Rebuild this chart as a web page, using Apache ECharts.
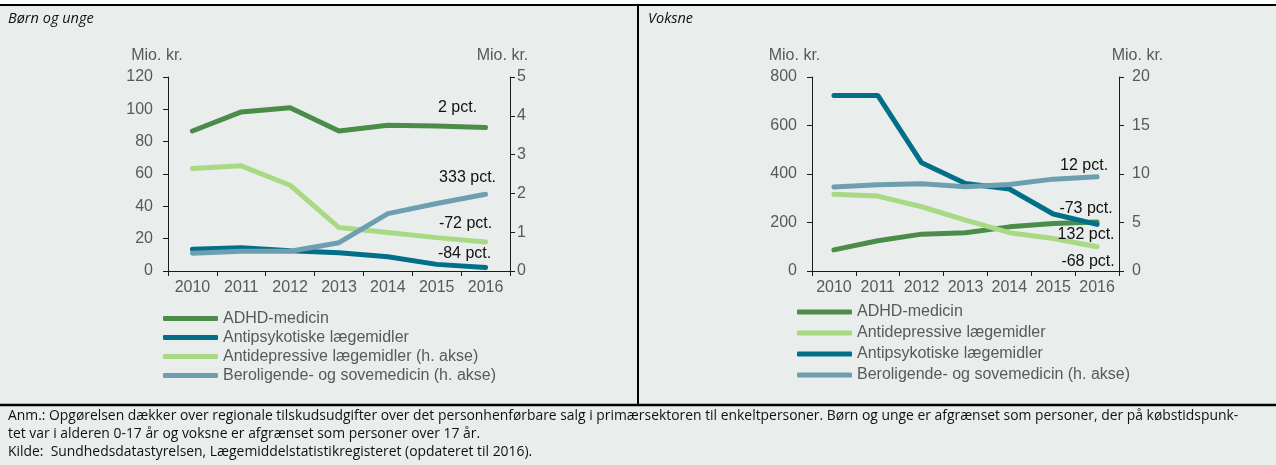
<!DOCTYPE html>
<html>
<head>
<meta charset="utf-8">
<script src="https://cdn.jsdelivr.net/npm/echarts@6/dist/echarts.min.js"></script>
<style>
	html, body { margin: 0; padding: 0; background: #e9eeec; }
	#main { width: 1276px; height: 465px; }
</style>
</head>
<body>
<div id="main"></div>
<script>
// data
const years = ['2010', '2011', '2012', '2013', '2014', '2015', '2016'];

// Børn og unge
const boernAdhd = [86.6, 98.4, 101, 86.6, 90.1, 89.7, 88.7];
const boernAntipsyk = [13.4, 14.4, 12.6, 11.3, 8.8, 4.1, 2.1];
const boernAntidep = [2.64, 2.71, 2.21, 1.12, 0.99, 0.86, 0.75];      // h. akse
const boernBerolig = [0.46, 0.51, 0.51, 0.73, 1.48, 1.74, 1.98];      // h. akse
const boernPct = ['2 pct.', '-84 pct.', '-72 pct.', '333 pct.'];

// Voksne
const voksneAdhd = [87, 125, 152, 158, 182, 196, 202];
const voksneAntidep = [316, 309, 265, 210, 158, 134, 100];
const voksneAntipsyk = [724, 724, 446, 361, 338, 235, 192];
const voksneBerolig = [8.65, 8.89, 8.99, 8.68, 8.92, 9.47, 9.71];    // h. akse
const voksnePct = ['132 pct.', '-68 pct.', '-73 pct.', '12 pct.'];

const leftTicks = [0, 120, 20];
const rightTicks = [0, 5, 1];
const leftTicksV = [0, 800, 200];
const rightTicksV = [0, 20, 5];

const footer = [
	'Anm.: Opgørelsen dækker over regionale tilskudsudgifter over det personhenførbare salg i primærsektoren til enkeltpersoner. Børn og unge er afgrænset som personer, der på købstidspunk-',
	'tet var i alderen 0-17 år og voksne er afgrænset som personer over 17 år.',
	'Kilde:  Sundhedsdatastyrelsen, Lægemiddelstatistikregisteret (opdateret til 2016).'
];

const C_ADHD = '#4c8c49',
	C_ANTIPSYK = '#006f87',
	C_ANTIDEP = '#aad985',
	C_BEROLIG = '#6d9fb0';
const GREY = '#595959';
const FONT = 'Liberation Sans, Arial, sans-serif';
const FS = 16;

let chart = null;

function xAxis(gridIndex) {
	return {
		type: 'category',
		gridIndex: gridIndex,
		data: years,
		boundaryGap: true,
		axisLine: { lineStyle: { color: '#1a1a1a', width: 1 } },
		axisTick: { show: true, length: 5, lineStyle: { color: '#1a1a1a' } },
		axisLabel: { color: GREY, fontSize: FS, fontFamily: FONT, margin: 9, interval: 0 },
		splitLine: { show: false }
	};
}

function yAxis(gridIndex, ticks, position, labelMargin, pad) {
	return {
		type: 'value',
		gridIndex: gridIndex,
		position: position,
		min: ticks[0],
		max: ticks[1],
		interval: ticks[2],
		name: 'Mio. kr.',
		nameLocation: 'end',
		nameGap: 21,
		nameTextStyle: {
			color: GREY, fontSize: FS, fontFamily: FONT,
			align: 'center', verticalAlign: 'middle', padding: pad
		},
		axisLine: { show: true, lineStyle: { color: '#1a1a1a', width: 1 } },
		axisTick: { show: true, length: 5, lineStyle: { color: '#1a1a1a' } },
		axisLabel: { color: GREY, fontSize: FS, fontFamily: FONT, margin: labelMargin },
		splitLine: { show: false }
	};
}

function line(name, data, color, xIdx, yIdx, pct, offset) {
	return {
		name: name,
		type: 'line',
		xAxisIndex: xIdx,
		yAxisIndex: yIdx,
		data: data,
		symbol: 'none',
		lineStyle: { color: color, width: 5, cap: 'round' },
		itemStyle: { color: color },
		emphasis: { disabled: true },
		markPoint: {
			silent: true,
			symbol: 'circle',
			symbolSize: 0,
			itemStyle: { color: 'transparent' },
			label: {
				show: true,
				position: 'inside',
				color: '#111',
				fontSize: FS,
				fontFamily: FONT,
				formatter: pct,
				offset: offset
			},
			data: [{ coord: [years[years.length - 1], data[data.length - 1]] }]
		}
	};
}

function legend(left, top, gap, names) {
	return {
		orient: 'vertical',
		left: left,
		top: top,
		padding: 0,
		itemWidth: 55,
		itemHeight: 5,
		itemGap: gap,
		icon: 'roundRect',
		selectedMode: false,
		textStyle: { color: GREY, fontSize: FS, fontFamily: FONT, lineHeight: 16 },
		data: names
	};
}

function text(x, y, str, style) {
	return {
		type: 'text',
		x: x,
		y: y,
		silent: true,
		style: Object.assign({ text: str, fill: '#111', verticalAlign: 'middle' }, style)
	};
}

function getOption() {
	const bName = ['ADHD-medicin', 'Antipsykotiske lægemidler', 'Antidepressive lægemidler (h. akse)', 'Beroligende- og sovemedicin (h. akse)'];
	const vName = ['ADHD-medicin', 'Antidepressive lægemidler', 'Antipsykotiske lægemidler', 'Beroligende- og sovemedicin (h. akse)'];
	const footStyle = { font: '13.9px "Open Sans", sans-serif', fill: '#111' };

	return {
		backgroundColor: '#e9eeec',
		animation: false,
		grid: [
			{ left: 168, right: 1276 - 510, top: 77, bottom: 465 - 271 },
			{ left: 812, right: 1276 - 1119, top: 77, bottom: 465 - 271 }
		],
		xAxis: [xAxis(0), xAxis(1)],
		yAxis: [
			yAxis(0, leftTicks, 'left', 15, [0, 22, 0, 0]),
			yAxis(0, rightTicks, 'right', 7, [0, 15, 0, 0]),
			yAxis(1, leftTicksV, 'left', 15, [0, 35, 0, 0]),
			yAxis(1, rightTicksV, 'right', 13, [0, 0, 0, 37])
		],
		legend: [
			legend(163, 310.5, 3, bName),
			legend(797, 304, 5, vName)
		],
		series: [
			line(bName[0], boernAdhd, C_ADHD, 0, 0, boernPct[0], [-28, -20]),
			line(bName[1], boernAntipsyk, C_ANTIPSYK, 0, 0, boernPct[1], [-21, -14]),
			line(bName[2], boernAntidep, C_ANTIDEP, 0, 1, boernPct[2], [-20, -18]),
			line(bName[3], boernBerolig, C_BEROLIG, 0, 1, boernPct[3], [-18, -17]),

			line(vName[0], voksneAdhd, C_ADHD, 1, 2, voksnePct[0], [-11, 13]),
			line(vName[1], voksneAntidep, C_ANTIDEP, 1, 2, voksnePct[1], [-9, 15]),
			line(vName[2], voksneAntipsyk, C_ANTIPSYK, 1, 2, voksnePct[2], [-11, -16]),
			line(vName[3], voksneBerolig, C_BEROLIG, 1, 3, voksnePct[3], [-13, -11])
		],
		graphic: [
			// hvid kant i toppen + rammer
			{ type: 'rect', silent: true, shape: { x: 0, y: 0, width: 1276, height: 4 }, style: { fill: '#fff' } },
			{ type: 'line', silent: true, shape: { x1: 0, y1: 5, x2: 1276, y2: 5 }, style: { stroke: '#000', lineWidth: 2 } },
			{ type: 'line', silent: true, shape: { x1: 638, y1: 5, x2: 638, y2: 405 }, style: { stroke: '#000', lineWidth: 2 } },
			{ type: 'line', silent: true, shape: { x1: 0, y1: 405, x2: 1276, y2: 405 }, style: { stroke: '#000', lineWidth: 2.5 } },

			text(8, 19, 'Børn og unge', { font: 'italic 14.5px "Open Sans", sans-serif' }),
			text(648, 19, 'Voksne', { font: 'italic 14.5px "Open Sans", sans-serif' }),

			text(8, 416, footer[0], footStyle),
			text(8, 434, footer[1], footStyle),
			text(8, 452, footer[2], footStyle)
		]
	};
}

chart = echarts.init(document.getElementById('main'), null, { renderer: 'canvas' });
chart.setOption(getOption());
</script>
</body>
</html>
